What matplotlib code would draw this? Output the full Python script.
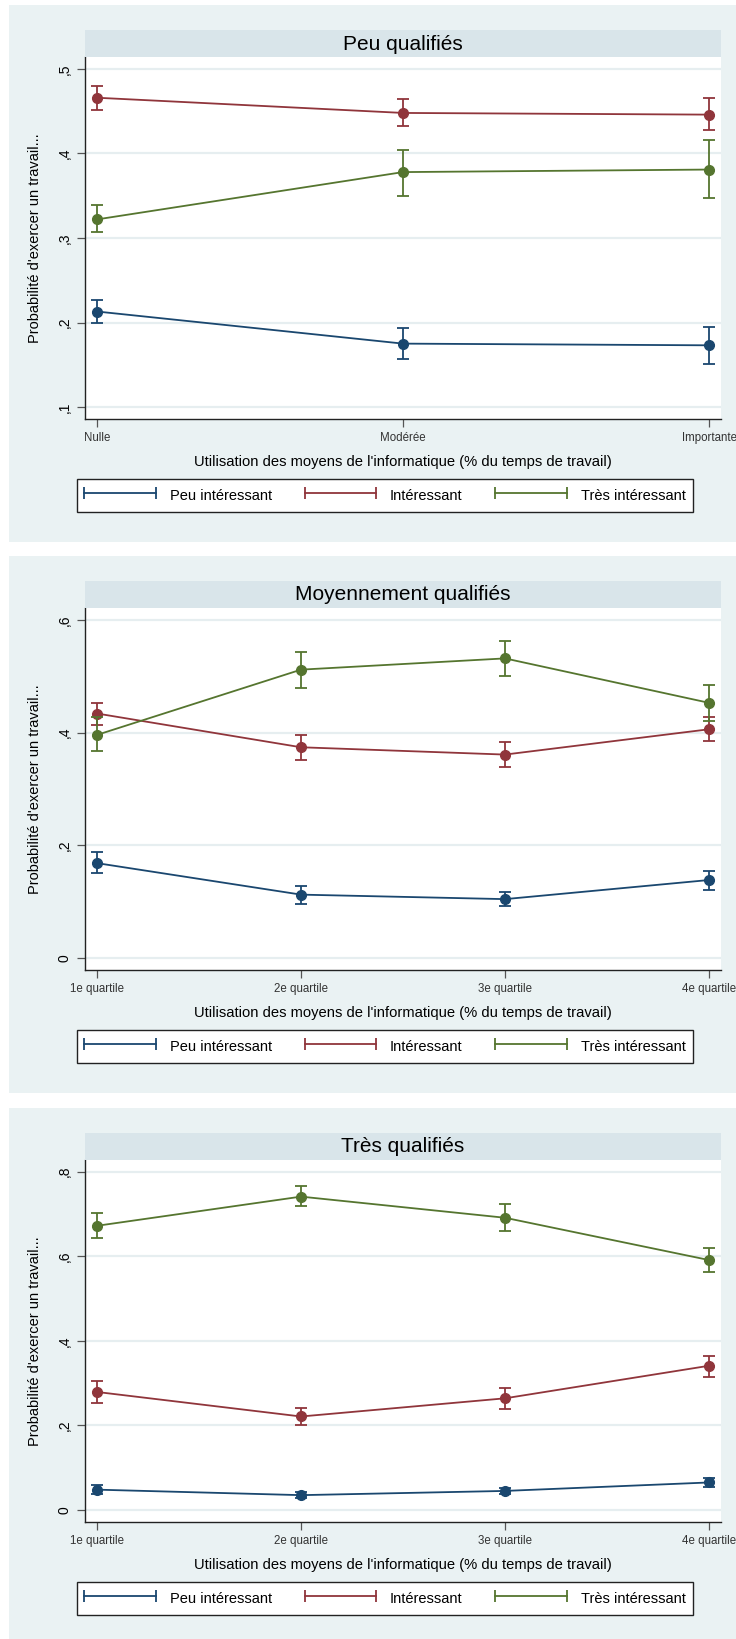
import matplotlib
matplotlib.use("Agg")
import matplotlib.pyplot as plt
from matplotlib.lines import Line2D
from matplotlib.patches import Rectangle
from matplotlib.legend_handler import HandlerLine2D

# series (same three in every panel)
series_names = ["Peu intéressant", "Intéressant", "Très intéressant"]
series_colors = ["#1a476f", "#90353b", "#55752f"]

# panel 1 : Peu qualifiés
peu_title = "Peu qualifiés"
peu_cats = ["Nulle", "Modérée", "Importante"]
peu_est = [[0.213, 0.175, 0.173], [0.466, 0.448, 0.446], [0.322, 0.378, 0.381]]
peu_low = [[0.199, 0.157, 0.151], [0.451, 0.432, 0.428], [0.307, 0.350, 0.347]]
peu_high = [[0.227, 0.194, 0.195], [0.480, 0.465, 0.466], [0.339, 0.404, 0.416]]
peu_yticks = [0.1, 0.2, 0.3, 0.4, 0.5]
peu_ylim = (0.0858, 0.5142)

# panel 2 : Moyennement qualifiés
moy_title = "Moyennement qualifiés"
quart_cats = ["1e quartile", "2e quartile", "3e quartile", "4e quartile"]
moy_est = [[0.168, 0.112, 0.104, 0.138], [0.434, 0.374, 0.361, 0.406], [0.396, 0.512, 0.532, 0.453]]
moy_low = [[0.150, 0.096, 0.091, 0.121], [0.414, 0.351, 0.339, 0.385], [0.367, 0.479, 0.500, 0.420]]
moy_high = [[0.187, 0.127, 0.117, 0.154], [0.453, 0.396, 0.384, 0.428], [0.428, 0.544, 0.563, 0.484]]
moy_yticks = [0, 0.2, 0.4, 0.6]
moy_ylim = (-0.022, 0.6216)

# panel 3 : Très qualifiés
tres_title = "Très qualifiés"
tres_est = [[0.048, 0.035, 0.045, 0.065], [0.279, 0.221, 0.264, 0.341], [0.672, 0.741, 0.691, 0.591]]
tres_low = [[0.038, 0.029, 0.037, 0.055], [0.254, 0.202, 0.238, 0.315], [0.642, 0.719, 0.660, 0.563]]
tres_high = [[0.058, 0.042, 0.053, 0.075], [0.304, 0.242, 0.289, 0.365], [0.702, 0.767, 0.723, 0.620]]
tres_yticks = [0, 0.2, 0.4, 0.6, 0.8]
tres_ylim = (-0.0285, 0.8276)

panels = [
    (peu_title, peu_cats, peu_est, peu_low, peu_high, peu_yticks, peu_ylim, 5),
    (moy_title, quart_cats, moy_est, moy_low, moy_high, moy_yticks, moy_ylim, 556),
    (tres_title, quart_cats, tres_est, tres_low, tres_high, tres_yticks, tres_ylim, 1108),
]

ylabel_txt = "Probabilité d'exercer un travail..."
xlabel_txt = "Utilisation des moyens de l'informatique (% du temps de travail)"

plt.rcParams["font.family"] = ["Liberation Sans", "DejaVu Sans"]

W, H = 736, 1639
fig = plt.figure(figsize=(W / 100, H / 100), dpi=100)
fig.patch.set_facecolor("white")

bg_col = "#eaf2f3"
strip_col = "#d9e5ea"


def fx(px):
    return px / W


def fy(py):
    return 1 - py / H


def ytick_fmt(v):
    if v == 0:
        return "0"
    return "," + str(int(round(v * 10)))


for title, cats, est, low, high, yticks, ylim, top in panels:
    # panel background
    fig.add_artist(Rectangle((fx(9), fy(top + 537)), fx(736 - 9), 537 / H,
                             transform=fig.transFigure, facecolor=bg_col,
                             edgecolor="none", zorder=0))
    # title strip
    fig.add_artist(Rectangle((fx(85), fy(top + 52)), fx(721 - 85), 27 / H,
                             transform=fig.transFigure, facecolor=strip_col,
                             edgecolor="none", zorder=1))
    fig.text(fx(403), fy(top + 39), title, ha="center", va="center",
             fontsize=15, color="black")

    ax = fig.add_axes([fx(85), fy(top + 414), fx(721 - 85), 362 / H])
    ax.set_facecolor("white")
    n = len(cats)
    xs = list(range(n))
    for i in range(3):
        yerr = [[est[i][k] - low[i][k] for k in range(n)],
                [high[i][k] - est[i][k] for k in range(n)]]
        ax.errorbar(xs, est[i], yerr=yerr, color=series_colors[i], lw=1.3,
                    marker="o", markersize=7, elinewidth=1.3, capsize=4.5,
                    capthick=1.3, zorder=3 + i)

    edge = 12 / (636 - 24) * (n - 1)
    ax.set_xlim(-edge, (n - 1) + edge)
    ax.set_ylim(*ylim)
    ax.set_xticks(xs)
    ax.set_xticklabels(cats, fontsize=8.3, color="#333333")
    ax.set_yticks(yticks)
    ax.set_yticklabels([ytick_fmt(v) for v in yticks], fontsize=10,
                       rotation=90, va="center")
    ax.grid(axis="y", color="#e6eef0", lw=1.6, zorder=0)
    ax.set_axisbelow(True)
    for s in ["top", "right"]:
        ax.spines[s].set_visible(False)
    for s in ["left", "bottom"]:
        ax.spines[s].set_color("#222222")
        ax.spines[s].set_linewidth(1.0)
    ax.tick_params(axis="both", direction="out", length=5.5, width=0.9,
                   color="#555555")
    ax.tick_params(axis="x", pad=4)
    ax.tick_params(axis="y", pad=4)

    fig.text(fx(35), fy(top + 233), ylabel_txt, rotation=90, ha="center",
             va="center", fontsize=10.5)
    fig.text(fx(403), fy(top + 457), xlabel_txt, ha="center", va="center",
             fontsize=10.6)

    handles = [Line2D([], [], color=c, lw=1.3, marker="|", markersize=9,
                      markeredgewidth=1.3) for c in series_colors]
    leg = fig.legend(handles, series_names, loc="upper left",
                     bbox_to_anchor=(fx(77), fy(top + 474)), ncol=3,
                     frameon=True, fancybox=False, borderaxespad=0,
                     prop={"size": 10.5}, numpoints=2,
                     handlelength=4.9, handletextpad=0.95, columnspacing=2.25,
                     borderpad=0.5, handleheight=1.55,
                     handler_map={Line2D: HandlerLine2D(marker_pad=0)})
    leg.get_frame().set_edgecolor("#222222")
    leg.get_frame().set_linewidth(1.0)
    leg.get_frame().set_facecolor("white")
    leg.get_frame().set_alpha(1)

fig.savefig("out.png", dpi=100, facecolor="white")
